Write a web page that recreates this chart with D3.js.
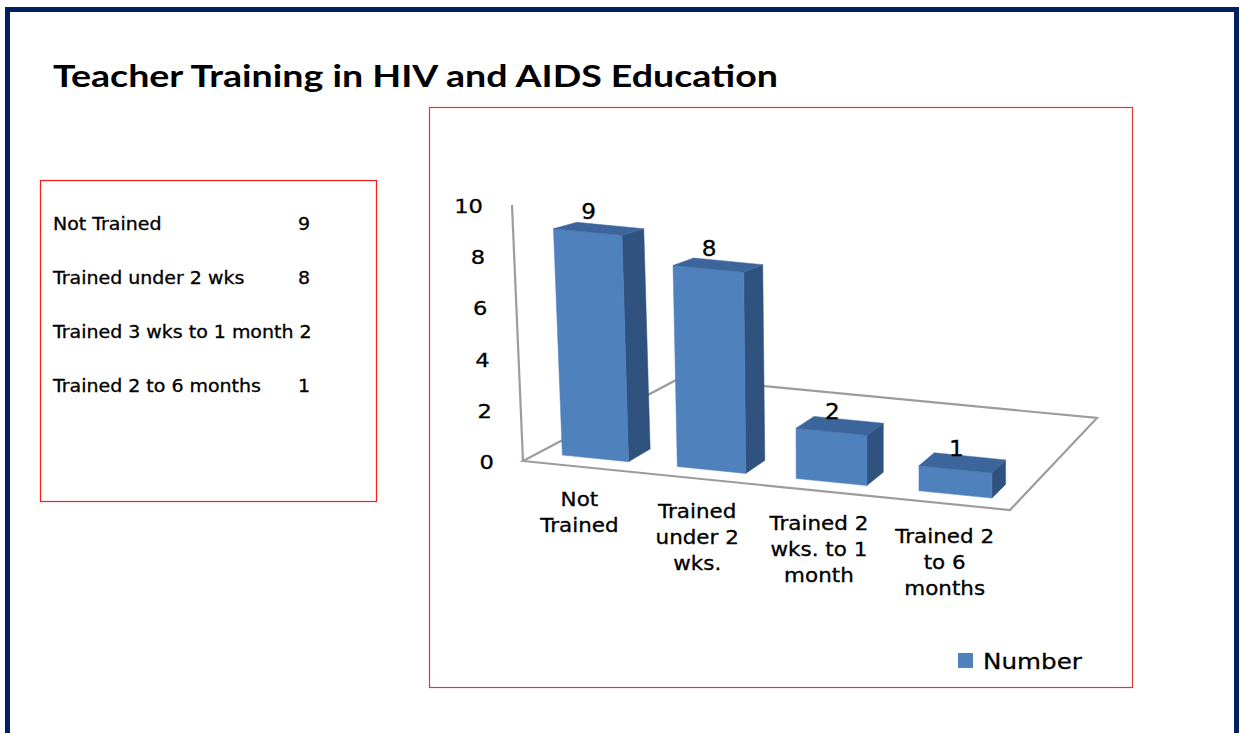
<!DOCTYPE html>
<html>
<head>
<meta charset="utf-8">
<script src="https://cdn.jsdelivr.net/npm/d3@7"></script>
<style>
    body { margin: 0; background: #fff; }
    svg { display: block; }
</style>
</head>
<body>
<div id="chart"></div>
<script>
// data
const categories = ['Not Trained', 'Trained under 2 wks.', 'Trained 2 wks. to 1 month', 'Trained 2 to 6 months'];
const categoryLines = [['Not', 'Trained'], ['Trained', 'under 2', 'wks.'], ['Trained 2', 'wks. to 1', 'month'], ['Trained 2', 'to 6', 'months']];
const values = [9, 8, 2, 1];
const tableLabels = ['Not Trained', 'Trained under 2 wks', 'Trained 3 wks to 1 month', 'Trained 2 to 6 months'];
const seriesName = 'Number';
const title = 'Teacher Training in HIV and AIDS Education';

const width = 1240, height = 733;
const textFont = '"DejaVu Sans", sans-serif';
const stretch = 1.13; // the original text is a bit wider than DejaVu

const svg = d3.select('#chart')
    .append('svg')
    .attr('width', width)
    .attr('height', height);

// page frame
svg.append('rect')
    .attr('x', 7.5).attr('y', 9.5)
    .attr('width', 1229).attr('height', 760)
    .attr('fill', 'none')
    .attr('stroke', '#00205f')
    .attr('stroke-width', 5);

// title
svg.append('text')
    .attr('x', 53).attr('y', 87)
    .attr('font-family', 'Lato, sans-serif')
    .attr('font-weight', 'bold')
    .attr('font-size', 31)
    .attr('textLength', 725)
    .attr('lengthAdjust', 'spacingAndGlyphs')
    .text(title);

function addText(g, x, y, str, size, anchor) {
    return g.append('text')
        .attr('transform', `translate(${x},${y}) scale(${stretch},1)`)
        .attr('font-family', textFont)
        .attr('font-size', size)
        .attr('text-anchor', anchor || 'start')
        .attr('fill', '#000')
        .attr('stroke', '#000')
        .attr('stroke-width', 0.3)
        .text(str);
}

// table box
svg.append('rect')
    .attr('x', 40.5).attr('y', 180.5)
    .attr('width', 336).attr('height', 321)
    .attr('fill', 'none')
    .attr('stroke', '#ff1a1a')
    .attr('stroke-width', 1.2);

const table = svg.append('g');
tableLabels.forEach((lab, i) => {
    const y = 230 + i * 54;
    const t = addText(table, 53, y, lab, 16.8);
    const end = 53 + t.node().getComputedTextLength() * stretch;
    addText(table, Math.max(298, end + 6), y, values[i], 16.8);
});

// chart box
svg.append('rect')
    .attr('x', 429.5).attr('y', 107.5)
    .attr('width', 703).attr('height', 580)
    .attr('fill', 'none')
    .attr('stroke', '#d83a3a')
    .attr('stroke-width', 1.2);

// 3d floor corners (front-left, front-right, back-left, back-right)
const FL = [523, 461], FR = [1010, 510], BL = [680, 378], BR = [1097, 418];

const xBand = d3.scaleBand().domain(categories).range([0, 1]);
const y = d3.scaleLinear().domain([0, 10]).range([0, 256]);
const lerp = (a, b, t) => a + (b - a) * t;

// u: along categories, w: depth, v: value
function proj(u, w, v) {
    u = u - 0.065 * u * (1 - u); // slight perspective squeeze
    const bx = lerp(lerp(FL[0], FR[0], u), lerp(BL[0], BR[0], u), w);
    const by = lerp(lerp(FL[1], FR[1], u), lerp(BL[1], BR[1], u), w);
    const h = y(v) * (1 - 0.176 * w);
    const tilt = Math.min(0, -0.043 + 0.075 * u);
    return [bx + h * tilt, by - h];
}

const line = d3.line();
const plot = svg.append('g');

// floor outline and vertical axis
plot.append('path')
    .attr('d', line([proj(0, 0, 0), proj(1, 0, 0), proj(1, 1, 0), proj(0, 1, 0)]) + 'Z')
    .attr('fill', 'none')
    .attr('stroke', '#9c9c9c')
    .attr('stroke-width', 2.2);
plot.append('path')
    .attr('d', line([proj(0, 0, 0), proj(0, 0, 10)]))
    .attr('stroke', '#9c9c9c')
    .attr('stroke-width', 2.2);

// tick labels
y.ticks(5).forEach(t => {
    const p = proj(0, 0, t);
    addText(plot, p[0] - 29, p[1] + 8, t, 20, 'end');
});

// bars
const barFrac = 0.58, w0 = 0.1, w1 = 0.25;
const bw = xBand.bandwidth();
const bars = plot.selectAll('g.bar')
    .data(categories.map((c, i) => ({ c, v: values[i] })))
    .join('g')
    .classed('bar', true);

bars.each(function (d) {
    const g = d3.select(this);
    const u0 = xBand(d.c) + bw * (1 - barFrac) / 2;
    const u1 = u0 + bw * barFrac;
    const faces = [
        { pts: [proj(u1, w0, 0), proj(u1, w1, 0), proj(u1, w1, d.v), proj(u1, w0, d.v)], fill: '#30527f' },
        { pts: [proj(u0, w0, 0), proj(u1, w0, 0), proj(u1, w0, d.v), proj(u0, w0, d.v)], fill: '#4f81bd' },
        { pts: [proj(u0, w0, d.v), proj(u1, w0, d.v), proj(u1, w1, d.v), proj(u0, w1, d.v)], fill: '#3c659c' }
    ];
    faces.forEach(f => {
        g.append('path')
            .attr('d', line(f.pts) + 'Z')
            .attr('fill', f.fill)
            .attr('stroke', f.fill)
            .attr('stroke-width', 0.5);
    });
    const top = proj((u0 + u1) / 2, w0, d.v);
    addText(g, top[0] + 1, top[1] - 13, d.v, 20.5, 'middle');
});

// category labels
categories.forEach((c, i) => {
    const p = proj(xBand(c) + bw / 2, 0, 0);
    categoryLines[i].forEach((ln, j) => {
        addText(plot, p[0] - 1, p[1] + 39 + j * 26, ln, 19, 'middle');
    });
});

// legend
svg.append('rect')
    .attr('x', 958).attr('y', 653)
    .attr('width', 15).attr('height', 15)
    .attr('fill', '#4f81bd');
addText(svg, 983, 669, seriesName, 21.8);
</script>
</body>
</html>
